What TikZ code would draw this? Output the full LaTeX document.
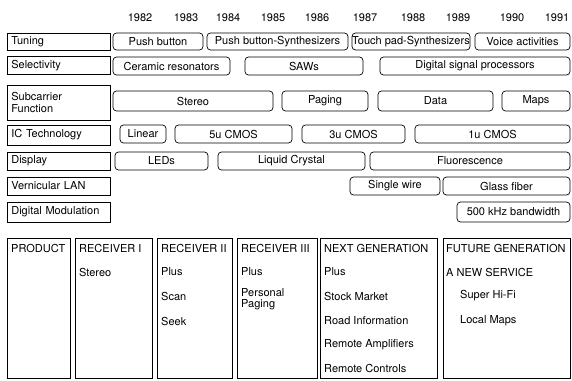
\documentclass[tikz,border=0pt]{standalone}
\usepackage{fontspec}
\setmainfont{TeX Gyre Heros}
\tikzset{
  lbl/.style={draw, line width=0.7pt, anchor=west, text width=95pt, inner xsep=4pt, inner ysep=0pt, align=left},
  bar/.style={draw, line width=0.7pt, rounded corners=3.5pt, inner sep=0pt},
  col/.style={draw, line width=0.7pt, anchor=north west, inner sep=0pt, minimum height=140pt},
  entry/.style={anchor=west, inner sep=0pt}
}
\begin{document}
\begin{tikzpicture}[x=1pt, y=-1pt, font=\fontsize{11}{12}\selectfont]
			\useasboundingbox (0,0) rectangle (572,380);
			% years
			\foreach \yr/\xx in {1982/140,1983/186,1984/228,1985/273,1986/317,1987/365,1988/413,1989/458,1990/512,1991/557}
				\node (y\yr) at (\xx,18) {\yr};
			% row labels
			\node[lbl, minimum height=17] (tuning) at (7,41.5) {Tuning};
			\node[lbl, minimum height=18] (select) at (7,65.5) {Selectivity};
			\node[lbl, minimum height=35] (subcar) at (7,102.5) {Subcarrier\\Function};
			\node[lbl, minimum height=20] (ictech) at (7,135) {IC Technology};
			\node[lbl, minimum height=18] (display) at (7,161) {Display};
			\node[lbl, minimum height=18] (lan) at (7,186) {Vernicular LAN};
			\node[lbl, minimum height=20] (digmod) at (7,212) {Digital Modulation};
			% tuning
			\node[bar, minimum width=90, minimum height=17] (t1) at (158,41.5) {Push button};
			\node[bar, minimum width=141, minimum height=17] (t2) at (277.5,41.5) {Push button-Synthesizers};
			\node[bar, minimum width=118, minimum height=17] (t3) at (411,41.5) {Touch pad-Synthesizers};
			\node[bar, minimum width=95, minimum height=17] (t4) at (522.5,41.5) {Voice activities};
			% selectivity
			\node[bar, minimum width=117, minimum height=18] (s1) at (171.5,66) {Ceramic resonators};
			\node[bar, minimum width=118, minimum height=18] (s2) at (304,66) {SAWs};
			\node[bar, minimum width=190, minimum height=18] (s3) at (475,66) {Digital signal processors};
			% subcarrier function
			\node[bar, minimum width=160, minimum height=20] (f1) at (193,101) {Stereo};
			\node[bar, minimum width=86, minimum height=20] (f2) at (325,101) {Paging};
			\node[bar, minimum width=115, minimum height=20] (f3) at (435.5,101) {Data};
			\node[bar, minimum width=68, minimum height=20] (f4) at (536,101) {Maps};
			% IC technology
			\node[bar, minimum width=46, minimum height=18] (c1) at (143,134) {Linear};
			\node[bar, minimum width=117, minimum height=18] (c2) at (233.5,134) {5u CMOS};
			\node[bar, minimum width=103, minimum height=18] (c3) at (353.5,134) {3u CMOS};
			\node[bar, minimum width=155, minimum height=18] (c4) at (492.5,134) {1u CMOS};
			% display
			\node[bar, minimum width=93, minimum height=18] (d1) at (161.5,161) {LEDs};
			\node[bar, minimum width=147, minimum height=18] (d2) at (291.5,161) {Liquid Crystal};
			\node[bar, minimum width=200, minimum height=18] (d3) at (470,161) {Fluorescence};
			% LAN, modulation
			\node[bar, minimum width=90, minimum height=18] (v1) at (395,186) {Single wire};
			\node[bar, minimum width=127, minimum height=18] (v2) at (506.5,186) {Glass fiber};
			\node[bar, minimum width=113, minimum height=20] (m1) at (513.5,212) {500 kHz bandwidth};
			% products
			\node[col, minimum width=63] (p0) at (7,238) {};
			\node[col, minimum width=77] (p1) at (75,238) {};
			\node[col, minimum width=75] (p2) at (157,238) {};
			\node[col, minimum width=80] (p3) at (237,238) {};
			\node[col, minimum width=117] (p4) at (320,238) {};
			\node[col, minimum width=127] (p5) at (443,238) {};
			\node[entry] (h0) at (11,248) {PRODUCT};
			\node[entry] (h1) at (79,248) {RECEIVER I};
			\node[entry] (h2) at (161,248) {RECEIVER II};
			\node[entry] (h3) at (241,248) {RECEIVER III};
			\node[entry] (h4) at (324,248) {NEXT GENERATION};
			\node[entry] (h5) at (446,248) {FUTURE GENERATION};
			\node[entry] (r1a) at (79,272) {Stereo};
			\node[entry] (r2a) at (161,272) {Plus};
			\node[entry] (r2b) at (161,296) {Scan};
			\node[entry] (r2c) at (161,321) {Seek};
			\node[entry] (r3a) at (241,272) {Plus};
			\node[entry, align=left, font=\fontsize{11}{11}\selectfont] (r3b) at (241,299) {Personal\\Paging};
			\node[entry] (r4a) at (324,272) {Plus};
			\node[entry] (r4b) at (324,296) {Stock Market};
			\node[entry] (r4c) at (324,321) {Road Information};
			\node[entry] (r4d) at (324,345) {Remote Amplifiers};
			\node[entry] (r4e) at (324,368) {Remote Controls};
			\node[entry] (r5a) at (446,272) {A NEW SERVICE};
			\node[entry] (r5b) at (460,296) {Super Hi-Fi};
			\node[entry] (r5c) at (460,321) {Local Maps};
		\end{tikzpicture}
\end{document}
